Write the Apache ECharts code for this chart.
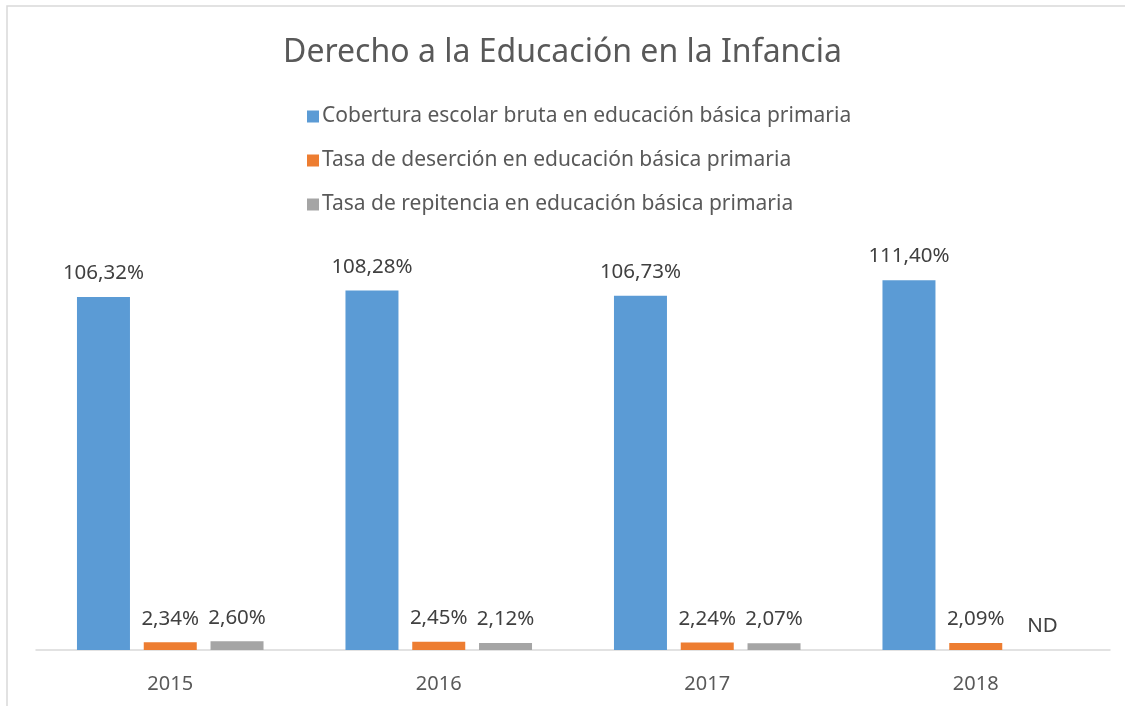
<!DOCTYPE html>
<html lang="es" style="height: 100%">
<head>
  <meta charset="utf-8">
</head>
<body style="height: 100%; margin: 0; background: #fff">
  <div id="container" style="width: 1125px; height: 706px"></div>
  <script type="text/javascript" src="https://cdn.jsdelivr.net/npm/echarts@6/dist/echarts.min.js"></script>
  <script type="text/javascript">
    // datos
    var years = ['2015', '2016', '2017', '2018'];
    var cobertura = [106.32, 108.28, 106.73, 111.40];
    var desercion = [2.34, 2.45, 2.24, 2.09];
    var repitencia = [2.60, 2.12, 2.07, null]; // 2018 sin dato (ND)

    var seriesNames = [
      'Cobertura escolar bruta en educación básica primaria',
      'Tasa de deserción en educación básica primaria',
      'Tasa de repitencia en educación básica primaria'
    ];

    var font = 'Noto Sans';
    var dom = document.getElementById('container');
    var myChart = echarts.init(dom, null, { renderer: 'canvas' });

    function pct(p) {
      if (p.value == null || p.value === 0) return 'ND';
      return p.value.toFixed(2).replace('.', ',') + '%';
    }

    var labelStyle = {
      show: true,
      position: 'top',
      distance: 13,
      formatter: pct,
      color: '#404040',
      fontSize: 20.5,
      fontFamily: font
    };

    var option = {
      animation: false,
      color: ['#5B9BD5', '#ED7D31', '#A5A5A5'],
      title: {
        text: 'Derecho a la Educación en la Infancia',
        left: 'center',
        top: 32,
        textStyle: { color: '#595959', fontSize: 32, fontWeight: 'normal', fontFamily: font }
      },
      legend: {
        orient: 'vertical',
        left: 302,
        top: 101,
        itemWidth: 12,
        itemHeight: 12,
        itemGap: 23,
        icon: 'rect',
        textStyle: { color: '#595959', fontSize: 21, fontFamily: font, padding: [0, 0, 0, -2] },
        data: seriesNames
      },
      graphic: [{
        type: 'rect',
        shape: { x: 7, y: 6, width: 1140, height: 720 },
        style: { fill: 'none', stroke: '#d9d9d9', lineWidth: 1.5 },
        silent: true
      }],
      grid: { left: 36, right: 15, top: 152, bottom: 56 },
      xAxis: {
        type: 'category',
        data: years,
        axisLine: { lineStyle: { color: '#d9d9d9', width: 1.5 } },
        axisTick: { show: false },
        axisLabel: { color: '#595959', fontSize: 20, fontFamily: font, margin: 24 }
      },
      yAxis: {
        type: 'value',
        min: 0,
        max: 150,
        show: false
      },
      series: [
        {
          name: seriesNames[0], type: 'bar', data: cobertura,
          barWidth: 53, barGap: '26%', label: labelStyle
        },
        {
          name: seriesNames[1], type: 'bar', data: desercion,
          barWidth: 53, barGap: '26%', label: labelStyle
        },
        {
          name: seriesNames[2], type: 'bar',
          data: repitencia.map(function (v) { return v == null ? 0 : v; }),
          barWidth: 53, barGap: '26%', label: labelStyle
        }
      ]
    };

    myChart.setOption(option);
    window.addEventListener('resize', myChart.resize);
  </script>
</body>
</html>
